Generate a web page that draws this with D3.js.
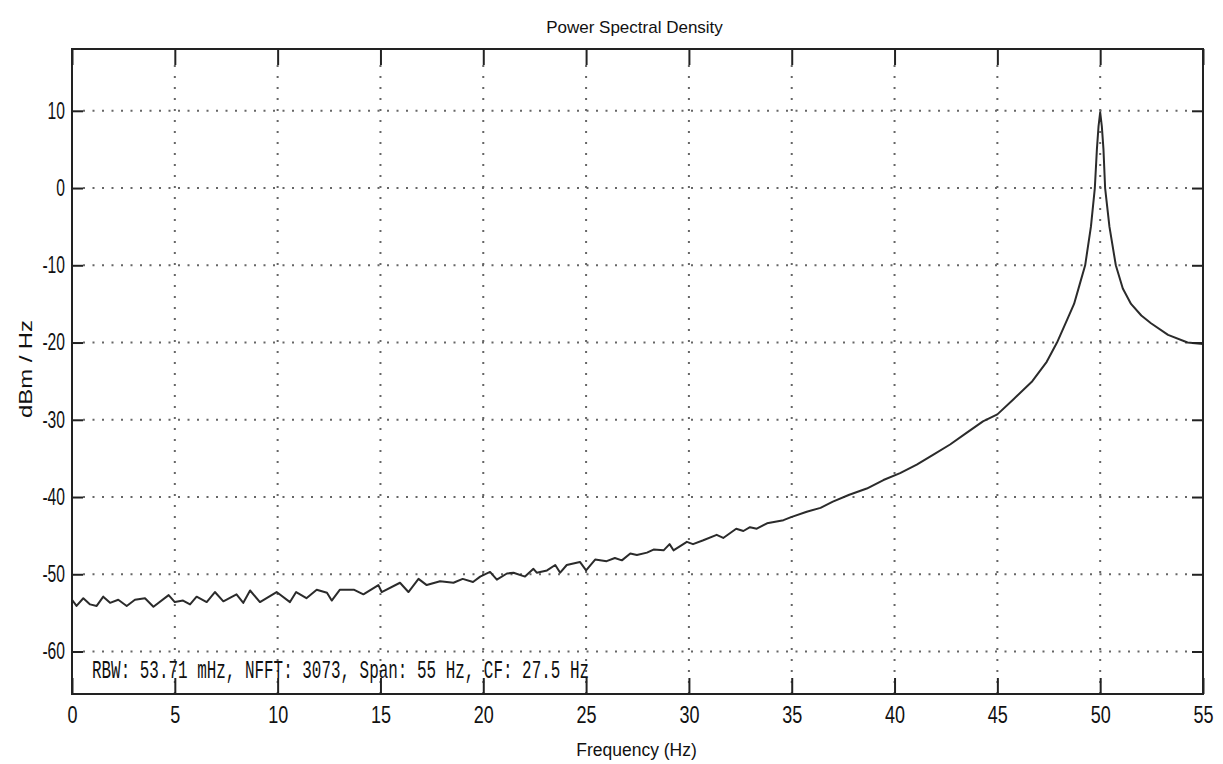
<!DOCTYPE html>
<html>
<head>
<meta charset="utf-8">
<script src="https://cdn.jsdelivr.net/npm/d3@7"></script>
<style>
  body { margin: 0; background: #fff; }
  svg { display: block; }
</style>
</head>
<body>
<div id="chart"></div>
<script>
const freqHz = [0, 0.22, 0.55, 0.88, 1.2, 1.52, 1.85, 2.25, 2.66, 3.06, 3.55, 3.96, 4.7, 5.0, 5.4, 5.74,
  6.06, 6.55, 6.95, 7.36, 8.0, 8.33, 8.66, 9.14, 9.95, 10.6, 10.9, 11.4, 11.9, 12.4, 12.63, 13.03,
  13.7, 14.17, 14.9, 15.06, 15.95, 16.36, 16.85, 17.25, 17.9, 18.55, 19.0, 19.5, 19.85, 20.33, 20.66,
  21.15, 21.47, 22.03, 22.44, 22.6, 23.1, 23.5, 23.74, 24.06, 24.7, 25.0, 25.44, 26.0, 26.4, 26.74,
  27.15, 27.47, 27.96, 28.28, 28.77, 29.06, 29.25, 29.9, 30.2, 30.7, 31.35, 31.67, 32.3, 32.65, 32.97,
  33.3, 33.8, 34.6, 34.97, 35.73, 36.4, 37.0, 37.8, 38.65, 39.46, 40.27, 41.08, 41.89, 42.7, 43.5,
  44.3, 45.0, 45.8, 46.7, 47.4, 47.9, 48.4, 48.73, 49.0, 49.27, 49.55, 49.74, 49.84, 49.92, 50.0,
  50.08, 50.16, 50.24, 50.45, 50.76, 51.1, 51.5, 52.0, 52.47, 53.3, 54.25, 55.0];

const psdDbm = [-53.3, -54.1, -53.1, -53.9, -54.1, -52.9, -53.7, -53.3, -54.1, -53.3, -53.1, -54.2, -52.7, -53.6, -53.4, -53.9,
  -52.9, -53.6, -52.3, -53.5, -52.6, -53.7, -52.1, -53.6, -52.3, -53.6, -52.3, -53.1, -52.0, -52.4, -53.4, -52.0,
  -52.0, -52.6, -51.4, -52.3, -51.1, -52.3, -50.6, -51.4, -50.9, -51.1, -50.6, -51.0, -50.3, -49.7, -50.7,
  -49.9, -49.8, -50.3, -49.3, -49.8, -49.5, -48.8, -49.8, -48.8, -48.4, -49.5, -48.1, -48.3, -47.9, -48.2,
  -47.3, -47.5, -47.2, -46.8, -46.9, -46.1, -46.9, -45.8, -46.1, -45.6, -44.9, -45.3, -44.1, -44.4, -43.9,
  -44.1, -43.4, -43.0, -42.6, -41.9, -41.4, -40.6, -39.7, -38.9, -37.8, -36.9, -35.8, -34.5, -33.2, -31.7,
  -30.2, -29.3, -27.3, -25.0, -22.5, -20.0, -17.0, -15.0, -12.5, -10.0, -5.0, 0.0, 5.0, 8.0, 9.8,
  8.0, 5.0, 0.0, -5.0, -10.0, -13.0, -15.0, -16.5, -17.5, -19.0, -20.0, -20.2];

const xTicks = [0, 5, 10, 15, 20, 25, 30, 35, 40, 45, 50, 55];
const yTicks = [10, 0, -10, -20, -30, -40, -50, -60];

const titleText = 'Power Spectral Density';
const xLabel = 'Frequency (Hz)';
const yLabel = 'dBm / Hz';
const infoText = 'RBW: 53.71 mHz, NFFT: 3073, Span: 55 Hz, CF: 27.5 Hz';

const width = 1223, height = 764;
const plot = { left: 72, right: 1203, top: 49, bottom: 694 };

const svg = d3.select('#chart').append('svg')
  .attr('width', width)
  .attr('height', height);

const x = d3.scaleLinear().domain([0, 55]).range([plot.left, plot.right]);
const y = d3.scaleLinear().domain([-65.5, 18]).range([plot.bottom, plot.top]);

// dotted grid
svg.append('g')
    .attr('stroke', '#666')
    .attr('stroke-width', 2)
    .attr('stroke-dasharray', '2,9')
  .selectAll('line')
  .data(xTicks.filter(d => d > 0 && d < 55))
  .join('line')
    .attr('x1', d => x(d)).attr('x2', d => x(d))
    .attr('y1', plot.top + 16).attr('y2', plot.bottom);

svg.append('g')
    .attr('stroke', '#666')
    .attr('stroke-width', 2)
    .attr('stroke-dasharray', '2,7.5')
  .selectAll('line')
  .data(yTicks)
  .join('line')
    .attr('x1', plot.left + 11).attr('x2', plot.right - 11)
    .attr('y1', d => y(d)).attr('y2', d => y(d));

// the trace
const line = d3.line()
  .x((d, i) => x(freqHz[i]))
  .y(d => y(d));

svg.append('path')
  .datum(psdDbm)
  .attr('fill', 'none')
  .attr('stroke', '#2b2b2b')
  .attr('stroke-width', 2)
  .attr('stroke-linejoin', 'round')
  .attr('d', line);

// axes with inward ticks, plain hyphen for negatives
const fmt = d => String(d);

const styleAxis = g => {
  g.select('.domain').remove();
  g.selectAll('.tick line').attr('stroke', '#222').attr('stroke-width', 2);
};

svg.append('g')
  .attr('transform', `translate(0,${plot.bottom})`)
  .call(d3.axisBottom(x).tickValues(xTicks).tickFormat(fmt).tickSize(-16).tickPadding(12))
  .call(styleAxis)
  .call(g => g.selectAll('.tick text')
    .attr('font-family', 'Liberation Sans, Arial, sans-serif')
    .attr('font-size', 24)
    .attr('fill', '#111')
    .attr('transform', 'scale(0.75,1)'));

svg.append('g')
  .attr('transform', `translate(0,${plot.top})`)
  .call(d3.axisTop(x).tickValues(xTicks).tickSize(-16).tickFormat(''))
  .call(styleAxis);

svg.append('g')
  .attr('transform', `translate(${plot.left},0)`)
  .call(d3.axisLeft(y).tickValues(yTicks).tickFormat(fmt).tickSize(-11).tickPadding(7))
  .call(styleAxis)
  .call(g => g.selectAll('.tick text')
    .attr('font-family', 'Liberation Sans, Arial, sans-serif')
    .attr('font-size', 23)
    .attr('fill', '#111')
    .attr('x', -7 / 0.68)
    .attr('transform', 'scale(0.68,1)'));

svg.append('g')
  .attr('transform', `translate(${plot.right},0)`)
  .call(d3.axisRight(y).tickValues(yTicks).tickSize(-11).tickFormat(''))
  .call(styleAxis);

svg.append('rect')
  .attr('x', plot.left).attr('y', plot.top)
  .attr('width', plot.right - plot.left).attr('height', plot.bottom - plot.top)
  .attr('fill', 'none')
  .attr('stroke', '#222')
  .attr('stroke-width', 2);

// texts
svg.append('text')
  .attr('x', (plot.left + plot.right) / 2 - 3).attr('y', 33)
  .attr('text-anchor', 'middle')
  .attr('font-family', 'Liberation Sans, Arial, sans-serif')
  .attr('font-size', 17)
  .attr('fill', '#111')
  .text(titleText);

svg.append('text')
  .attr('x', (plot.left + plot.right) / 2 - 1).attr('y', 756)
  .attr('text-anchor', 'middle')
  .attr('font-family', 'Liberation Sans, Arial, sans-serif')
  .attr('font-size', 17.5)
  .attr('fill', '#111')
  .text(xLabel);

svg.append('text')
  .attr('transform', 'translate(32,369) rotate(-90)')
  .attr('text-anchor', 'middle')
  .attr('font-family', 'Liberation Sans, Arial, sans-serif')
  .attr('font-size', 19)
  .attr('fill', '#111')
  .attr('textLength', 98)
  .attr('lengthAdjust', 'spacingAndGlyphs')
  .text(yLabel);

svg.append('text')
  .attr('x', 92).attr('y', 678)
  .attr('font-family', 'Liberation Mono, DejaVu Sans Mono, monospace')
  .attr('font-size', 25)
  .attr('fill', '#111')
  .attr('textLength', 497)
  .attr('lengthAdjust', 'spacingAndGlyphs')
  .text(infoText);
</script>
</body>
</html>
